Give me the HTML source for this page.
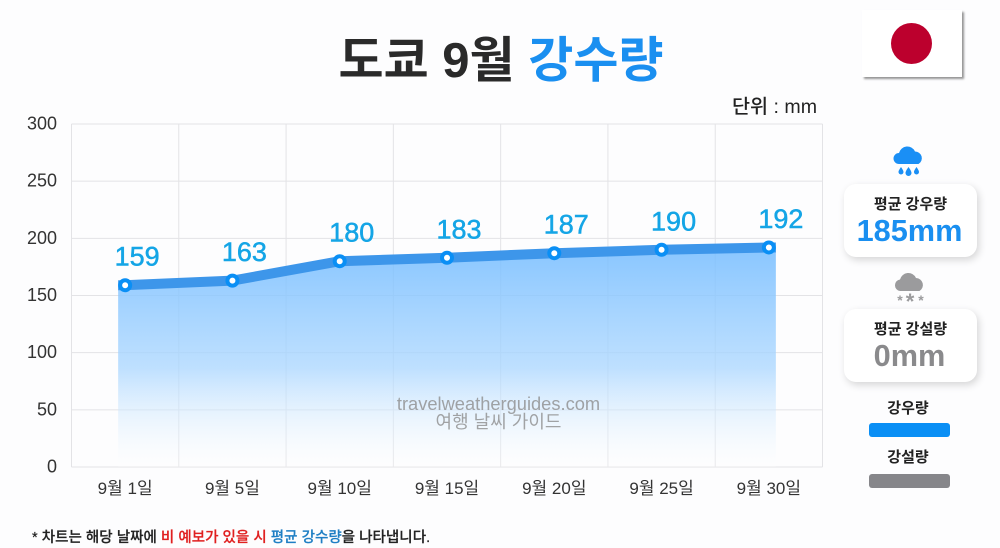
<!DOCTYPE html>
<html lang="ko">
<head>
<meta charset="utf-8">
<title>도쿄 9월 강수량</title>
<style>
html,body{margin:0;padding:0;background:#fdfdfe;}
body{width:1000px;height:548px;overflow:hidden;position:relative;font-family:"Liberation Sans","Noto Sans CJK KR",sans-serif;}
svg{position:absolute;left:0;top:0;}
text{font-family:"Liberation Sans","Noto Sans CJK KR",sans-serif;}
.card{position:absolute;left:844px;width:133px;height:73px;background:#fff;border-radius:12px;box-shadow:2px 3px 8px rgba(0,0,0,.16);text-align:center;}
.card .t{position:absolute;left:0;right:0;top:11px;font-size:15px;font-weight:700;color:#222;line-height:20px;white-space:nowrap;}
.card .v{position:absolute;left:-2px;right:0;top:30px;font-size:30.7px;font-weight:700;line-height:34px;}
.flag{position:absolute;left:862px;top:10px;width:100px;height:67px;background:#fff;box-shadow:2px 2px 2px rgba(0,0,0,.42);}
.flag i{position:absolute;left:29px;top:13px;width:41px;height:41px;border-radius:50%;background:#bc002d;display:block;}
.lg{position:absolute;left:848px;width:120px;text-align:center;font-size:15px;font-weight:700;color:#222;line-height:20px;}
.sw{position:absolute;left:869px;width:81px;height:14px;border-radius:3px;}
.title{position:absolute;left:0;top:28px;width:1002px;text-align:center;font-size:49px;font-weight:700;color:#2a2a2a;line-height:66px;white-space:nowrap;}
.unit{position:absolute;left:732px;top:95px;font-size:19.6px;font-weight:500;color:#222;line-height:24px;white-space:nowrap;}
.note{position:absolute;left:32px;top:528px;font-size:14.55px;font-weight:500;color:#222;line-height:20px;white-space:nowrap;-webkit-text-stroke:.2px #222;}
.note span{-webkit-text-stroke-width:.2px;-webkit-text-stroke-color:currentColor;}
</style>
</head>
<body>
<div class="title">도쿄 9월 <span style="color:#1a8ff0">강수량</span></div>
<div class="flag"><i></i></div>
<div class="unit">단위 : mm</div>

<svg id="chart" width="1000" height="548" viewBox="0 0 1000 548">
  <defs>
    <linearGradient id="areaFill" x1="0" y1="0" x2="0" y2="1">
      <stop offset="0" stop-color="#74bcff" stop-opacity=".85"/>
      <stop offset=".55" stop-color="#a9d6ff" stop-opacity=".75"/>
      <stop offset="1" stop-color="#ffffff" stop-opacity=".2"/>
    </linearGradient>
  </defs>
  <g id="grid"></g>
  <g id="marks"></g>
  <text x="498.500" y="410" text-anchor="middle" font-size="18.300" fill="#8d8d8d" fill-opacity=".8">travelweatherguides.com</text>
  <text x="498.500" y="428" text-anchor="middle" font-size="18" fill="#8d8d8d" fill-opacity=".8">여행 날씨 가이드</text>
</svg>

<svg width="1000" height="548" viewBox="0 0 1000 548">
  <g fill="#1a8ff5">
    <path d="M899 164a5.500 5.500 0 0 1 0-11 8.500 8.500 0 0 1 16-1.500 6.700 6.700 0 0 1 3.500 12.500z"/>
    <path d="M901 167c2 3 2.500 4 2.500 5a2.500 2.500 0 0 1-5 0c0-1 .5-2 2.500-5zM908.500 167c2.500 3.500 3 5 3 6a3 3 0 0 1-6 0c0-1 .5-2.500 3-6zM916.500 167c2 3 2.500 4 2.500 5a2.500 2.500 0 0 1-5 0c0-1 .5-2 2.500-5z"/>
  </g>
  <g fill="#9b9b9d">
    <path d="M900 291a5.800 5.800 0 0 1 0-11.500 8.500 8.500 0 0 1 16-1.500 7 7 0 0 1 3.500 13z"/>
    <text x="900" y="305" font-size="14" text-anchor="middle" font-weight="700">*</text>
    <text x="910" y="309" font-size="22" text-anchor="middle" font-weight="700">*</text>
    <text x="921" y="305" font-size="14" text-anchor="middle" font-weight="700">*</text>
  </g>
</svg>

<div class="card" style="top:184px">
  <div class="t">평균 강우량</div>
  <div class="v" style="color:#1a8ff0">185mm</div>
</div>
<div class="card" style="top:309px">
  <div class="t">평균 강설량</div>
  <div class="v" style="color:#8a8a8c">0mm</div>
</div>
<div class="lg" style="top:399px">강우량</div>
<div class="sw" style="top:423px;background:#0a8ff5"></div>
<div class="lg" style="top:448px">강설량</div>
<div class="sw" style="top:474px;background:#86868a"></div>
<div class="note">* 차트는 해당 날짜에 <span style="color:#e02020">비 예보가 있을 시</span> <span style="color:#1f7fc4">평균 강수량</span>을 나타냅니다.</div>

<script>
const categories = ['9월 1일','9월 5일','9월 10일','9월 15일','9월 20일','9월 25일','9월 30일'];
const rainfall = [159,163,180,183,187,190,192];
const yTicks = [0,50,100,150,200,250,300];
const yMax = 300;

const plot = {left:71.5,right:822.5,top:124,bottom:467};
const NS = 'http://www.w3.org/2000/svg';
const bandW = (plot.right-plot.left)/categories.length;
function xScale(i){return plot.left+bandW*(i+0.5);}
function yScale(v){return plot.bottom-(v/yMax)*(plot.bottom-plot.top);}
function make(tag,attrs,parent,text){
  const el=document.createElementNS(NS,tag);
  for(const k in attrs){el.setAttribute(k,attrs[k]);}
  if(text!==undefined){el.textContent=text;}
  parent.appendChild(el);
  return el;
}
const grid=document.getElementById('grid');
const marks=document.getElementById('marks');

yTicks.forEach(function(t){
  const y=yScale(t);
  const line=make('line',{x1:plot.left,x2:plot.right,y1:y,y2:y,stroke:'#e3e3e6','stroke-width':1},grid);
  
  
  const lab=make('text',{x:57,y:y+5.5,'text-anchor':'end','font-size':18,fill:'#333'},grid,String(t));
  
  
});
for(let i=0;i<=categories.length;i++){
  const x=plot.left+bandW*i;
  const line=make('line',{x1:x,x2:x,y1:plot.top,y2:plot.bottom,stroke:'#e3e3e6','stroke-width':1},grid);
  
  
}
categories.forEach(function(c,i){
  const lab=make('text',{x:xScale(i),y:494,'text-anchor':'middle','font-size':17,fill:'#333'},grid,c);
  
  
});

const capOffset=7;
const firstX=xScale(0)-capOffset;
const lastX=xScale(rainfall.length-1)+capOffset;
let topPts=rainfall.map(function(v,i){return xScale(i)+','+yScale(v);});
let areaD='M'+firstX+','+yScale(rainfall[0])+' L'+topPts.join(' L')+' L'+lastX+','+yScale(rainfall[rainfall.length-1])+' L'+lastX+','+plot.bottom+' L'+firstX+','+plot.bottom+' Z';
const area=make('path',{d:areaD,fill:'url(#areaFill)'},marks);


const lineD='M'+firstX+','+yScale(rainfall[0])+' L'+topPts.join(' L')+' L'+lastX+','+yScale(rainfall[rainfall.length-1]);
const rainLine=make('path',{d:lineD,fill:'none',stroke:'#3d96ea','stroke-width':10,'stroke-linejoin':'round'},marks);



rainfall.forEach(function(v,i){
  const pt=make('circle',{cx:xScale(i),cy:yScale(v),r:5,fill:'#fff',stroke:'#0a8ff5','stroke-width':4},marks);
  
  
  const lab=make('text',{x:xScale(i)+12,y:yScale(v)-19.5,'text-anchor':'middle','font-size':27,'font-weight':500,fill:'#14a5e6',stroke:'#14a5e6','stroke-width':.5},marks,String(v));
  
  
});
</script>
</body>
</html>
